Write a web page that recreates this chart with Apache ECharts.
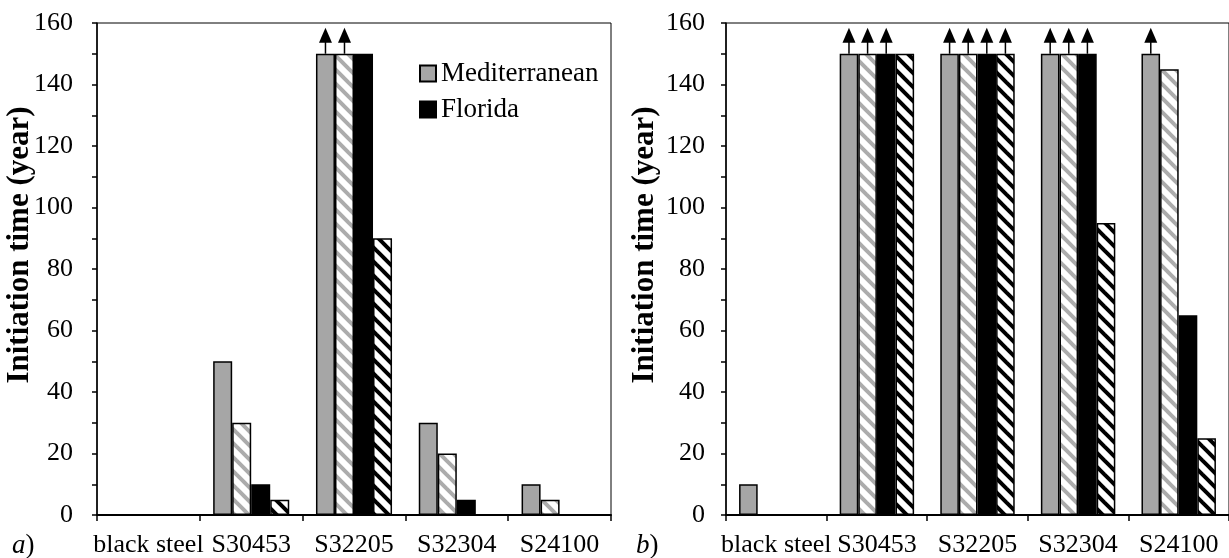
<!DOCTYPE html>
<html>
<head>
<meta charset="utf-8">
<script src="https://cdn.jsdelivr.net/npm/echarts@6/dist/echarts.min.js"></script>
<style>html,body{margin:0;padding:0;background:#fff;}#c{width:1229px;height:558px;}</style>
</head>
<body>
<div id="c"></div>
<script>
// ---- data ----
const categories = ['black steel', 'S30453', 'S32205', 'S32304', 'S24100'];
// panel a)
const aMed      = [0, 50, 150, 30, 10];
const aMedHatch = [0, 30, 150, 20, 5];
const aFlo      = [0, 10, 150, 5, 0];
const aFloHatch = [0, 5, 90, 0, 0];
// panel b)
const bMed      = [10, 150, 150, 150, 150];
const bMedHatch = [0, 150, 150, 150, 145];
const bFlo      = [0, 150, 150, 150, 65];
const bFloHatch = [0, 150, 150, 95, 25];
// arrows: [category index, bar index within group]
const arrowsA = [[2, 0], [2, 1]];
const arrowsB = [[1, 0], [1, 1], [1, 2], [2, 0], [2, 1], [2, 2], [2, 3], [3, 0], [3, 1], [3, 2], [4, 0]];
const yMin = 0, yMax = 160, yStep = 20;
const yTitle = 'Initiation time (year)';

// ---- styles ----
const FONT = 'Liberation Serif';
const FS = 26;
const GAP = 0.26;
function hatch(color, width) {
  const s = 14;
  const cv = document.createElement('canvas');
  cv.width = s; cv.height = s;
  const ctx = cv.getContext('2d');
  ctx.fillStyle = '#fff'; ctx.fillRect(0, 0, s, s);
  ctx.strokeStyle = color; ctx.lineWidth = width; ctx.lineCap = 'square';
  for (let k = -1; k <= 1; k++) {
    ctx.beginPath(); ctx.moveTo(k * s, 0); ctx.lineTo(k * s + s, s); ctx.stroke();
  }
  return { image: cv, repeat: 'repeat' };
}
const grayHatch = hatch('#acacac', 4);
const blackHatch = hatch('#000', 4);
const barBorder = { borderColor: '#000', borderWidth: 1.5 };

function barSeries(name, data, color, gi) {
  return {
    type: 'bar', name: name, data: data, xAxisIndex: gi, yAxisIndex: gi,
    barGap: '0%', barCategoryGap: (GAP * 100) + '%',
    itemStyle: Object.assign({ color: color }, barBorder),
    emphasis: { disabled: true }
  };
}
function arrowSeries(list, vals, gi) {
  return {
    type: 'custom', xAxisIndex: gi, yAxisIndex: gi, silent: true, z: 5,
    data: list.map(p => [p[0], p[1], vals[p[1]][p[0]]]),
    renderItem: function (params, api) {
      const c = api.coord([api.value(0), api.value(2)]);
      const band = api.size([1, 0])[0];
      const gw = band * (1 - GAP);
      const bw = gw / 4;
      const x = c[0] - gw / 2 + (api.value(1) + 0.5) * bw;
      const y0 = c[1];
      return {
        type: 'group',
        children: [
          { type: 'line', shape: { x1: x, y1: y0, x2: x, y2: y0 - 12 }, style: { stroke: '#000', lineWidth: 1.5 } },
          { type: 'polygon', shape: { points: [[x - 6.5, y0 - 11], [x + 6.5, y0 - 11], [x, y0 - 26]] }, style: { fill: '#000' } }
        ]
      };
    }
  };
}
function xAxis(gi) {
  return {
    type: 'category', gridIndex: gi, data: categories,
    axisLine: { lineStyle: { color: '#000', width: 2 } },
    axisTick: { show: true, length: 6, lineStyle: { color: '#000', width: 1.5 } },
    axisLabel: { color: '#000', fontFamily: FONT, fontSize: FS, margin: 17, interval: 0 },
    splitLine: { show: false }
  };
}
function yAxis(gi, margin) {
  return {
    type: 'value', gridIndex: gi, min: yMin, max: yMax, interval: yStep,
    axisLine: { show: true, lineStyle: { color: '#000', width: 1.5 } },
    axisTick: { show: true, length: 5, lineStyle: { color: '#000', width: 1.5 } },
    minorTick: { show: true, splitNumber: 2, length: 5, lineStyle: { color: '#000', width: 1.5 } },
    axisLabel: { color: '#000', fontFamily: FONT, fontSize: FS, margin: margin },
    splitLine: { show: false }
  };
}
const italicRich = { i: { fontStyle: 'italic', fontFamily: FONT, fontSize: 27 } };

const chart = echarts.init(document.getElementById('c'), null, { renderer: 'canvas' });
chart.setOption({
  animation: false,
  backgroundColor: '#fff',
  grid: [
    { left: 97, top: 23, width: 514, height: 492, show: true, borderColor: '#000', borderWidth: 1, backgroundColor: 'transparent' },
    { left: 726, top: 23, width: 506, height: 492, show: true, borderColor: '#000', borderWidth: 1, backgroundColor: 'transparent' }
  ],
  xAxis: [xAxis(0), xAxis(1)],
  yAxis: [yAxis(0, 24), yAxis(1, 21)],
  legend: {
    data: ['Mediterranean', 'Florida'],
    orient: 'vertical', left: 419, top: 60, padding: 0,
    itemWidth: 16, itemHeight: 16, itemGap: 9, icon: 'rect',
    textStyle: { color: '#000', fontFamily: FONT, fontSize: 27 },
    selectedMode: false
  },
  graphic: [
    { type: 'text', x: 20, y: 245, rotation: Math.PI / 2,
      style: { text: yTitle, fontFamily: FONT, fontSize: 31, fontWeight: 'bold', fill: '#000', align: 'center', verticalAlign: 'middle' } },
    { type: 'text', x: 645, y: 245, rotation: Math.PI / 2,
      style: { text: yTitle, fontFamily: FONT, fontSize: 31, fontWeight: 'bold', fill: '#000', align: 'center', verticalAlign: 'middle' } },
    { type: 'text', x: 12, y: 546,
      style: { text: '{i|a})', rich: italicRich, fontFamily: FONT, fontSize: 27, fill: '#000', verticalAlign: 'middle' } },
    { type: 'text', x: 636, y: 546,
      style: { text: '{i|b})', rich: italicRich, fontFamily: FONT, fontSize: 27, fill: '#000', verticalAlign: 'middle' } }
  ],
  series: [
    barSeries('Mediterranean', aMed, '#a6a6a6', 0),
    barSeries('Mediterranean, hatched', aMedHatch, grayHatch, 0),
    barSeries('Florida', aFlo, '#000', 0),
    barSeries('Florida, hatched', aFloHatch, blackHatch, 0),
    barSeries('Mediterranean', bMed, '#a6a6a6', 1),
    barSeries('Mediterranean, hatched', bMedHatch, grayHatch, 1),
    barSeries('Florida', bFlo, '#000', 1),
    barSeries('Florida, hatched', bFloHatch, blackHatch, 1),
    arrowSeries(arrowsA, [aMed, aMedHatch, aFlo, aFloHatch], 0),
    arrowSeries(arrowsB, [bMed, bMedHatch, bFlo, bFloHatch], 1)
  ]
});
</script>
</body>
</html>
